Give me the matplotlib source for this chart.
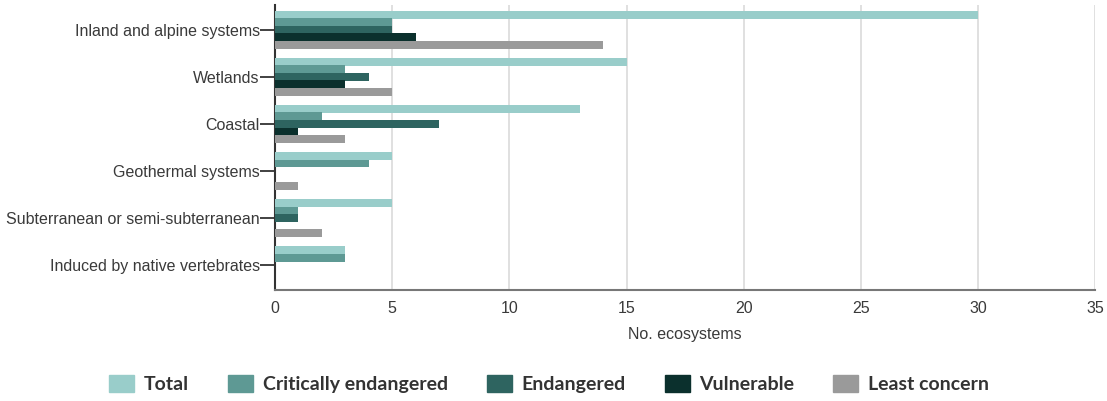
import numpy as np
import matplotlib.pyplot as plt
import matplotlib.patches as mpatches

# --- data ---
categories = ["Inland and alpine systems", "Wetlands", "Coastal",
              "Geothermal systems", "Subterranean or semi-subterranean",
              "Induced by native vertebrates"]
series = ["Total", "Critically endangered", "Endangered", "Vulnerable", "Least concern"]
total      = [30, 15, 13, 5, 5, 3]
critically = [5, 3, 2, 4, 1, 3]
endangered = [5, 4, 7, 0, 1, 0]
vulnerable = [6, 3, 1, 0, 0, 0]
least      = [14, 5, 3, 1, 2, 0]
values = [total, critically, endangered, vulnerable, least]

COLORS = ["#99CDCA", "#5E9994", "#2E6460", "#0B302D", "#9A9A9A"]
TXT = "#3a3a3a"
FS = 11.5

# --- figure ---
fig = plt.figure(figsize=(11.07, 4.01), dpi=100)
ax = fig.add_axes([0.2484, 0.2768, 0.741, 0.7107])

y = np.arange(len(categories))
OFFSET = 0.16
HEIGHT = 0.17
for i, (vals, col) in enumerate(zip(values, COLORS)):
    ax.barh(y + (i - 2) * OFFSET, vals, height=HEIGHT, color=col, zorder=3)

ax.set_ylim(len(categories) - 1 + 0.53, -0.53)
ax.set_xlim(0, 35)
ax.set_xticks(np.arange(0, 36, 5))
ax.set_yticks(y)
ax.set_yticklabels(categories)

ax.grid(axis="x", color="#dddddd", lw=1.3, zorder=0)
ax.set_axisbelow(True)
for s in ["top", "right"]:
    ax.spines[s].set_visible(False)
ax.spines["left"].set_color("#333333")
ax.spines["left"].set_linewidth(1.5)
ax.spines["bottom"].set_color("#777777")
ax.spines["bottom"].set_linewidth(1.5)

ax.tick_params(axis="y", length=11, width=1.3, color="#333333", pad=0,
               labelsize=FS, labelcolor=TXT)
ax.tick_params(axis="x", length=0, pad=8, labelsize=FS, labelcolor=TXT)
for lab in ax.get_xticklabels() + ax.get_yticklabels():
    lab.set_family("Liberation Sans")
ax.set_xlabel("No. ecosystems", fontsize=FS, color=TXT,
              family="Liberation Sans", labelpad=8)

handles = [mpatches.Patch(color=c, label=s) for c, s in zip(COLORS, series)]
fig.legend(handles=handles, loc="center", bbox_to_anchor=(0.496, 0.043), ncol=5,
           frameon=False, prop={"family": "Lato", "weight": "bold", "size": 14},
           labelcolor="#333333", handlelength=1.29, handleheight=0.98,
           handletextpad=0.5, columnspacing=2.0)

plt.savefig("out.png", dpi=100)
